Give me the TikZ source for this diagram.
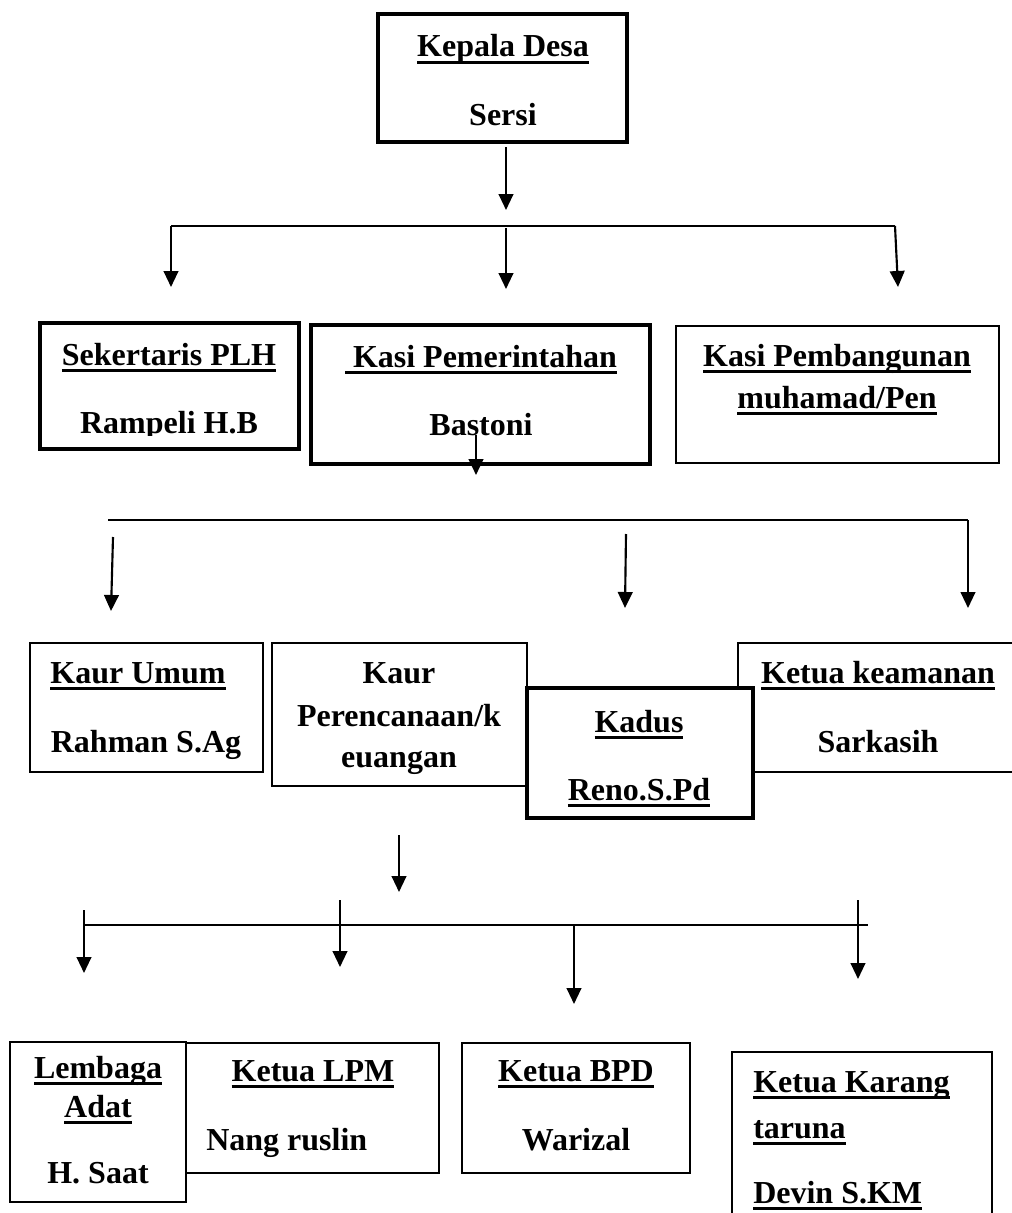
\documentclass[tikz,border=0pt]{standalone}
\usepackage{fontspec}
\setmainfont{Liberation Serif}
\usetikzlibrary{fit,arrows.meta}
\newcommand\ulx[1]{\setbox0\hbox{#1}\rlap{\rule[-5.2pt]{\wd0}{2.2pt}}\box0}
\begin{document}
\begin{tikzpicture}[x=0.75pt,y=-0.75pt,
  thickbox/.style={draw, line width=3pt, inner sep=0pt, fill=white},
  thinbox/.style={draw, line width=1.1pt, inner sep=0pt, fill=white},
  lbl/.style={anchor=base, inner sep=0pt, font=\bfseries\fontsize{24}{28}\selectfont},
  lblw/.style={lbl, anchor=base west},
  arr/.style={line width=1.6pt, -{Triangle[length=12pt,width=11pt]}},
  conn/.style={line width=1.4pt}]
\useasboundingbox (0,0) rectangle (1011,1213);
\fill[white] (0,0) rectangle (1011,1213);

% ---------- Kepala Desa ----------
\node[thickbox, fit={(378,14) (627,142)}] (kades) {};
\node[lbl] (tkades1) at (503,57) {\ulx{Kepala Desa}};
\node[lbl] (tkades2) at (503,125) {Sersi};

% connectors level 1
\coordinate (a0s) at (506,147); \coordinate (a0e) at (506,210);
\draw[arr] (a0s) -- (a0e);
\coordinate (h1l) at (171,226); \coordinate (h1r) at (895,226);
\draw[conn] (h1l) -- (h1r);
\coordinate (a1e) at (171,287);
\draw[arr] (h1l) -- (a1e);
\coordinate (a2s) at (506,228); \coordinate (a2e) at (506,289);
\draw[arr] (a2s) -- (a2e);
\coordinate (a3e) at (898,287);
\draw[arr] (h1r) -- (a3e);

% ---------- level 2 boxes ----------
\node[thickbox, fit={(40,323) (299,449)}] (sek) {};
\node[lbl] (tsek1) at (169,365) {\ulx{Sekertaris PLH}};
\begin{scope}
  \clip (40,323) rectangle (299,435);
  \node[lbl] (tsek2) at (169,433) {Rampeli H.B};
\end{scope}

\node[thickbox, fit={(311,325) (650,464)}] (kpem) {};
\node[lbl] (tkpem1) at (481,367) {\ulx{\ Kasi Pemerintahan}};
\begin{scope}
  \clip (311,325) rectangle (650,438);
  \node[lbl] (tkpem2) at (481,435) {Bastoni};
\end{scope}

\node[thinbox, fit={(676,326) (999,463)}] (kpemb) {};
\node[lbl] (tkpemb1) at (837,366) {\ulx{Kasi Pembangunan}};
\node[lbl] (tkpemb2) at (837,408) {\ulx{muhamad/Pen}};

\coordinate (b0s) at (476,435); \coordinate (b0e) at (476,475);
\draw[arr] (b0s) -- (b0e);

% connectors level 2
\coordinate (h2l) at (108,520); \coordinate (h2r) at (968,520);
\draw[conn] (h2l) -- (h2r);
\coordinate (b3e) at (968,608);
\draw[arr] (h2r) -- (b3e);
\coordinate (b1s) at (113,537); \coordinate (b1e) at (111,611);
\draw[arr] (b1s) -- (b1e);
\coordinate (b2s) at (626,534); \coordinate (b2e) at (625,608);
\draw[arr] (b2s) -- (b2e);

% ---------- level 3 boxes ----------
\node[thinbox, fit={(30,643) (263,772)}] (kumum) {};
\node[lbl] (tkumum1) at (138,683) {\ulx{Kaur Umum}};
\node[lbl] (tkumum2) at (146,752) {Rahman S.Ag};

\node[thinbox, fit={(272,643) (527,786)}] (kperen) {};
\node[lbl] (tkperen1) at (399,683) {Kaur};
\node[lbl] (tkperen2) at (399,726) {Perencanaan/k};
\node[lbl] (tkperen3) at (399,767) {euangan};

\node[thinbox, fit={(738,643) (1016,772)}] (kkeam) {};
\node[lbl] (tkkeam1) at (878,683) {\ulx{Ketua keamanan}};
\node[lbl] (tkkeam2) at (878,752) {Sarkasih};

\node[thickbox, fit={(527,688) (753,818)}] (kadus) {};
\node[lbl] (tkadus1) at (639,732) {\ulx{Kadus}};
\node[lbl] (tkadus2) at (639,800) {\ulx{Reno.S.Pd}};

% connectors level 3
\coordinate (c0s) at (399,835); \coordinate (c0e) at (399,892);
\draw[arr] (c0s) -- (c0e);
\coordinate (h3l) at (84,925); \coordinate (h3r) at (868,925);
\draw[line width=2pt] (h3l) -- (h3r);
\coordinate (c1s) at (84,910); \coordinate (c1e) at (84,973);
\draw[arr] (c1s) -- (c1e);
\coordinate (c2s) at (340,900); \coordinate (c2e) at (340,967);
\draw[arr] (c2s) -- (c2e);
\coordinate (c3s) at (574,925); \coordinate (c3e) at (574,1004);
\draw[arr] (c3s) -- (c3e);
\coordinate (c4s) at (858,900); \coordinate (c4e) at (858,979);
\draw[arr] (c4s) -- (c4e);

% ---------- level 4 boxes ----------
\node[thinbox, fit={(186,1043) (439,1173)}] (lpm) {};
\node[lbl] (tlpm1) at (313,1081) {\ulx{Ketua LPM}};
\node[lblw] (tlpm2) at (206,1150) {Nang ruslin};

\node[thinbox, fit={(10,1042) (186,1202)}] (adat) {};
\node[lbl] (tadat1) at (98,1078) {\ulx{Lembaga}};
\node[lbl] (tadat2) at (98,1117) {\ulx{Adat}};
\node[lbl] (tadat3) at (98,1183) {H. Saat};

\node[thinbox, line width=1.5pt, fit={(462,1043) (690,1173)}] (bpd) {};
\node[lbl] (tbpd1) at (576,1081) {\ulx{Ketua BPD}};
\node[lbl] (tbpd2) at (576,1150) {Warizal};

\node[thinbox, fit={(732,1052) (992,1225)}] (karang) {};
\node[lblw] (tkarang1) at (753,1092) {\ulx{Ketua Karang}};
\node[lblw] (tkarang2) at (753,1138) {\ulx{taruna}};
\node[lblw] (tkarang3) at (753,1203) {\ulx{Devin S.KM}};
\end{tikzpicture}
\end{document}
